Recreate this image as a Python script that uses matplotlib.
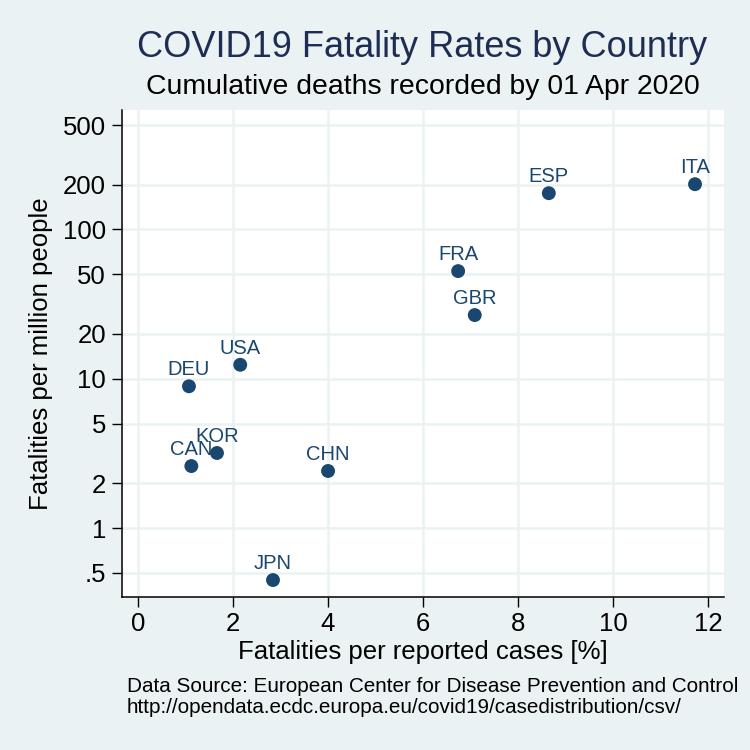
"""COVID19 fatality rates by country, Stata-like scatter."""

import matplotlib

matplotlib.use("Agg")
import matplotlib.pyplot as plt
from matplotlib.ticker import FixedLocator, FixedFormatter, NullLocator

plt.rcParams["font.family"] = ["Liberation Sans", "DejaVu Sans"]

countries = ["ITA", "ESP", "FRA", "GBR", "USA", "DEU", "KOR", "CAN", "CHN", "JPN"]
case_fatality = [11.73, 8.65, 6.74, 7.09, 2.15, 1.07, 1.66, 1.12, 4.00, 2.84]
per_million = [201, 175, 52.6, 26.7, 12.4, 8.9, 3.18, 2.6, 2.41, 0.448]

y_ticks = [0.5, 1, 2, 5, 10, 20, 50, 100, 200, 500]
y_tick_labels = [".5", "1", "2", "5", "10", "20", "50", "100", "200", "500"]
x_ticks = [0, 2, 4, 6, 8, 10, 12]

BG = "#eaf2f3"
NAVY = "#1a476f"
TITLE = "#1e2d53"

fig = plt.figure(figsize=(7.5, 7.5), dpi=100, facecolor=BG)
ax = fig.add_axes([0.1627, 0.204, 0.8026, 0.6493])
ax.set_facecolor("white")

ax.set_yscale("log")
ax.set_xlim(-0.34, 12.34)
ax.set_ylim(0.345, 631)

ax.yaxis.set_major_locator(FixedLocator(y_ticks))
ax.yaxis.set_major_formatter(FixedFormatter(y_tick_labels))
ax.yaxis.set_minor_locator(NullLocator())
ax.set_xticks(x_ticks)
ax.set_xticklabels([str(v) for v in x_ticks])

ax.grid(True, color=BG, linewidth=1.8)
ax.set_axisbelow(True)
for side in ("top", "right"):
    ax.spines[side].set_visible(False)
for side in ("left", "bottom"):
    ax.spines[side].set_linewidth(1.1)
ax.tick_params(axis="both", direction="out", length=7.5, width=1.0,
               labelsize=18.5)
ax.tick_params(axis="x", pad=3)
ax.tick_params(axis="y", pad=4)

ax.scatter(case_fatality, per_million, s=100, color=NAVY, zorder=3,
           edgecolors="none")
for name, x, y in zip(countries, case_fatality, per_million):
    ax.annotate(name, (x, y), xytext=(0, 8), textcoords="offset points",
                ha="center", va="baseline", fontsize=14.5, color=NAVY)

ax.set_xlabel("Fatalities per reported cases [%]", fontsize=18.5,
              va="baseline")
ax.xaxis.set_label_coords(0.5, -0.127)
ax.set_ylabel("Fatalities per million people", fontsize=18.5, va="center")
ax.yaxis.set_label_coords(-0.135, 0.5)

fig.text(0.5633, 0.924, "COVID19 Fatality Rates by Country", ha="center",
         va="baseline", fontsize=26, color=TITLE)
fig.text(0.5633, 0.8747, "Cumulative deaths recorded by 01 Apr 2020",
         ha="center", va="baseline", fontsize=20.4, color="black")

fig.text(0.1693, 0.0773,
         "Data Source: European Center for Disease Prevention and Control",
         ha="left", va="baseline", fontsize=14.9)
fig.text(0.1693, 0.0493,
         "http://opendata.ecdc.europa.eu/covid19/casedistribution/csv/",
         ha="left", va="baseline", fontsize=14.9)

fig.savefig("out.png", dpi=100, facecolor=BG)
